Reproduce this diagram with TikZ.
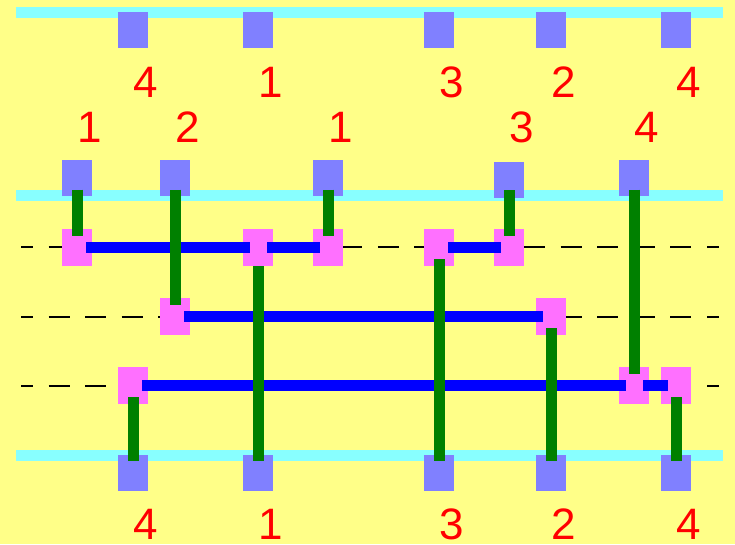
\documentclass[tikz,border=0pt]{standalone}
\usepackage{fontspec}
\newfontfamily\numfont{Liberation Sans}
\definecolor{sfondo}{RGB}{255,255,136}
\definecolor{ciano}{RGB}{136,255,255}
\definecolor{porta}{RGB}{128,128,255}
\definecolor{rosa}{RGB}{255,112,255}
\definecolor{verde}{RGB}{0,128,0}
\tikzset{
  pin/.style    = {rectangle, fill=porta, minimum width=30pt, minimum height=36pt, inner sep=0pt},
  nodo/.style   = {rectangle, fill=rosa, minimum width=30pt, minimum height=37pt, inner sep=0pt},
  bus/.style    = {draw=ciano, line width=10.7pt},
  traccia/.style= {draw=black, line width=2pt, dash pattern=on 21pt off 15.58pt, dash phase=9pt},
  filo/.style   = {draw=verde, line width=11pt, shorten <=11.5pt, shorten >=11.5pt},
  cavo/.style   = {draw=blue, line width=11pt, shorten <=9pt, shorten >=8pt},
  num/.style    = {anchor=base west, inner sep=0pt, text=red, font=\numfont\fontsize{44}{44}\selectfont}
}

\begin{document}
\begin{tikzpicture}[x=1pt, y=-1pt]

  \fill[sfondo] (0,0) rectangle (735,544);
  \useasboundingbox (0,0) rectangle (735,544);

  % ---------------- TRACCE ----------------
  \coordinate (d1a) at (21,247);   \coordinate (d1b) at (719,247);
  \coordinate (d2a) at (21,317);   \coordinate (d2b) at (719,317);
  \coordinate (d3a) at (21,386);   \coordinate (d3b) at (719,386);
  \draw[traccia] (d1a) -- (d1b);
  \draw[traccia] (d2a) -- (d2b);
  \draw[traccia] (d3a) -- (d3b);

  % ---------------- BUS ----------------
  \coordinate (ta) at (16,12.3);   \coordinate (tb) at (723,12.3);
  \coordinate (ma) at (16,195.5);  \coordinate (mb) at (723,195.5);
  \coordinate (ba) at (16,455.5);  \coordinate (bb) at (723,455.5);
  \draw[bus] (ta) -- (tb);
  \draw[bus] (ma) -- (mb);
  \draw[bus] (ba) -- (bb);

  % pin in alto
  \node[pin] (t1) at (133,30) {};
  \node[pin] (t2) at (258,30) {};
  \node[pin] (t3) at (439,30) {};
  \node[pin] (t4) at (551,30) {};
  \node[pin] (t5) at (676,30) {};

  % pin in mezzo
  \node[pin] (m1) at (77,178) {};
  \node[pin] (m2) at (175,178) {};
  \node[pin] (m3) at (328,178) {};
  \node[pin] (m4) at (509,180) {};
  \node[pin] (m5) at (634,178) {};

  % pin in basso
  \node[pin] (b1) at (133,472.5) {};
  \node[pin] (b2) at (258,472.5) {};
  \node[pin] (b3) at (439,472.5) {};
  \node[pin] (b4) at (551,472.5) {};
  \node[pin] (b5) at (676,472.5) {};

  % nodi sulle tracce
  \node[nodo] (p1)  at (77,247.5) {};
  \node[nodo] (p2)  at (258,247.5) {};
  \node[nodo] (p3)  at (328,247.5) {};
  \node[nodo] (p4)  at (439,247.5) {};
  \node[nodo] (p5)  at (509,247.5) {};
  \node[nodo] (p6)  at (175,316.5) {};
  \node[nodo] (p7)  at (551,316.5) {};
  \node[nodo] (p8)  at (133,385.5) {};
  \node[nodo] (p9)  at (634,385.5) {};
  \node[nodo] (p10) at (676,385.5) {};

  % ---------------- CAVI ----------------
  \draw[cavo] (p1.center)--(p2.center); \draw[cavo] (p2.center)--(p3.center); \draw[cavo] (p4.center)--(p5.center);
  \draw[cavo] (p6.center)--(p7.center);
  \draw[cavo] (p8.center)--(p9.center); \draw[cavo] (p9.center)--(p10.center);

  % ---------------- FILI ----------------
  \draw[filo] (m1.center)--(p1.center);
  \draw[filo] (m2.center)--(p6.center);
  \draw[filo] (m3.center)--(p3.center);
  \draw[filo, shorten <=0pt] (p2.south)--(b2.center);
  \draw[filo] (p4.center)--(b3.center);
  \draw[filo, shorten <=10pt] (m4.center)--(p5.center);
  \draw[filo] (m5.center)--(p9.center);
  \draw[filo] (p7.center)--(b4.center);
  \draw[filo] (p8.center)--(b1.center);
  \draw[filo] (p10.center)--(b5.center);

  % ---------------- NUMERI ----------------
  \node[num] (nt1) at (133,97) {4};
  \node[num] (nt2) at (258,97) {1};
  \node[num] (nt3) at (439,97) {3};
  \node[num] (nt4) at (551,97) {2};
  \node[num] (nt5) at (676,97) {4};

  \node[num] (nm1) at (77,142) {1};
  \node[num] (nm2) at (175,142) {2};
  \node[num] (nm3) at (328,142) {1};
  \node[num] (nm4) at (509,142) {3};
  \node[num] (nm5) at (634,142) {4};

  \node[num] (nb1) at (133,539) {4};
  \node[num] (nb2) at (258,539) {1};
  \node[num] (nb3) at (439,539) {3};
  \node[num] (nb4) at (551,539) {2};
  \node[num] (nb5) at (676,539) {4};

\end{tikzpicture}
\end{document}
